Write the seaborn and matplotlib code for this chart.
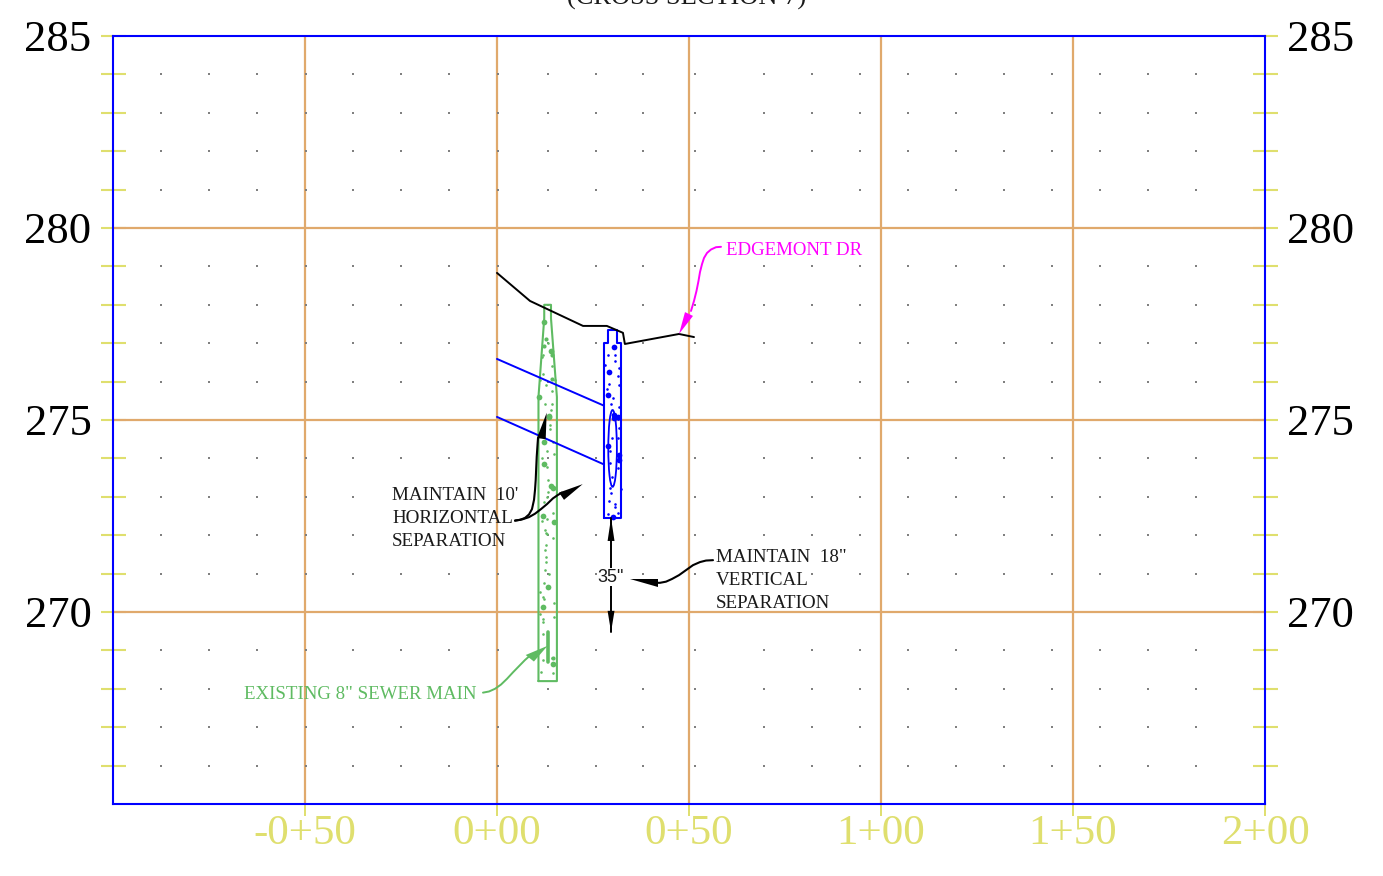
import matplotlib
matplotlib.use("Agg")
import matplotlib.pyplot as plt
from matplotlib.patches import Ellipse
import seaborn as sns

# ---- axes values
x_ticks = [-50, 0, 50, 100, 150, 200]
x_labels = ["-0+50", "0+00", "0+50", "1+00", "1+50", "2+00"]
x_grid = [-50, 0, 50, 100, 150]
y_ticks = [270, 275, 280, 285]
y_grid = [270, 275, 280]
y_minor = [266, 267, 268, 269, 271, 272, 273, 274, 276, 277, 278, 279, 281, 282, 283, 284]

# ---- background dot columns (station) and rows (elevation)
dot_cols = [-87.5, -75, -62.5, -49.7, -37.5, -25, -12.5, 0.2, 13.3, 25.8, 38, 51.6,
            69.5, 82, 94.5, 107, 119.5, 132, 144.5, 157, 169.5, 182, 200]
dot_rows = y_minor
dot_hidden = {273: [-25, -12.5, 0.2], 272: [-25, -12.5, 0.2], 271: [69.5],
              268: [-62.5, -49.7, -37.5, -25, -12.5, 0.2]}

# ---- profile lines
ground_x = [0, 8.6, 22.4, 28.6, 32.8, 33.3, 47.4, 51.3]
ground_y = [278.83, 278.1, 277.45, 277.45, 277.27, 276.98, 277.24, 277.16]
sep_top_x = [0, 27.7]
sep_top_y = [276.59, 275.38]
sep_bot_x = [0, 27.7]
sep_bot_y = [275.08, 273.85]

# ---- sewer main (green) and new pipe trench (blue)
sewer_x = [10.8, 10.8, 12.3, 12.3, 14.06, 14.06, 15.6, 15.6, 10.8]
sewer_y = [268.2, 275.6, 277.65, 278, 278, 277.65, 275.6, 268.2, 268.2]
sewer_mark_x = [13.2, 13.2]
sewer_mark_y = [269.49, 268.7]
trench_x = [27.86, 27.86, 29.0, 29.0, 31.25, 31.25, 32.4, 32.4, 27.86]
trench_y = [272.45, 277.0, 277.0, 277.34, 277.34, 277.0, 277.0, 272.45, 272.45]
pipe_x, pipe_y, pipe_w, pipe_h = 30.1, 274.26, 2.24, 2.0

# ---- speckles: station, elevation, size class
green_sx = [12.24, 12.76, 12.33, 13.98, 13.28, 14.24, 12.07, 11.63, 14.41, 11.89, 14.41, 15.1,
            12.76, 14.24, 11.02, 12.5, 14.24, 13.98, 13.46, 11.2,
            13.63, 13.8, 13.8, 12.24, 14.67, 12.93, 14.84, 11.72, 12.24, 13.1, 13.37, 14.06,
            14.67, 13.28, 13.1, 12.33, 14.5, 12.07, 11.63, 12.93, 14.84, 12.5, 13.1,
            12.76, 14.5, 12.76, 12.5, 12.67, 12.76, 12.5, 13.63, 12.24, 13.37, 11.2, 12.07,
            12.24, 14.84, 11.89, 11.2, 12.07, 14.84, 12.07, 12.07, 11.89, 14.67, 14.67, 14.24,
            11.46, 14.5]
green_sy = [277.56, 277.1, 276.93, 276.8, 277.0, 276.69, 276.69, 276.65, 276.41, 276.2, 276.07, 276.04,
            275.91, 275.76, 275.61, 275.41, 275.42, 275.26, 275.1, 276.04,
            275.09, 274.87, 274.77, 274.42, 274.42, 274.19, 274.11, 274.0, 273.85, 273.78, 273.44, 273.29,
            273.24, 273.12, 273.0, 272.87, 272.57, 272.51, 272.37, 272.42, 272.35, 272.14, 272.03,
            272.07, 271.92, 271.74, 271.61, 271.42, 271.29, 271.09, 270.99, 270.76, 270.66, 270.53, 270.4,
            270.33, 270.24, 270.14, 269.94, 269.83, 269.88, 269.75, 269.44, 268.75, 268.79, 268.64, 268.79,
            268.43, 268.42]
green_ss = [3, 2, 2, 3, 1, 2, 1, 1, 1, 1, 2, 1,
            1, 1, 3, 1, 1, 1, 3, 1,
            3, 1, 1, 3, 1, 1, 1, 1, 3, 1, 1, 3,
            3, 1, 1, 1, 1, 3, 1, 1, 3, 1, 1,
            1, 1, 1, 1, 1, 1, 1, 1, 1, 3, 1, 1,
            1, 1, 3, 1, 1, 1, 1, 1, 1, 2, 3, 1,
            1, 1]
blue_sx = [30.47, 30.73, 28.82, 30.73, 28.13, 29.25, 31.77, 31.6, 29.25, 31.86, 28.56, 29.0,
           30.3, 29.6, 31.86, 30.47, 31.6,
           30.56, 31.6, 31.86, 29.86, 31.42, 29.0, 29.43, 31.77, 31.77, 29.43, 31.42, 29.86,
           29.43, 32.29, 29.6, 29.25, 30.73, 30.73, 28.99, 30.3, 31.6]
blue_sy = [276.91, 276.69, 276.69, 276.54, 276.43, 276.26, 276.35, 276.15, 275.95, 275.91, 275.8, 275.65,
           275.56, 275.42, 275.33, 275.13, 275.09,
           275.06, 275.03, 274.78, 274.54, 274.52, 274.31, 274.18, 274.09, 273.96, 273.87, 273.74, 273.52,
           273.24, 273.2, 273.09, 272.9, 272.8, 272.74, 272.54, 272.48, 272.57]
blue_ss = [3, 1, 1, 1, 1, 3, 1, 1, 1, 1, 1, 3,
           1, 1, 1, 3, 3,
           3, 1, 1, 1, 1, 3, 1, 3, 3, 1, 1, 1,
           1, 1, 1, 1, 1, 1, 1, 3, 1]

# ---- callout leaders and arrow heads
edge_lead_x = [58.33, 57.03, 55.73, 54.69, 53.91, 53.39, 52.86, 52.47, 51.95, 51.3, 50.52]
edge_lead_y = [279.51, 279.5, 279.44, 279.35, 279.22, 279.06, 278.85, 278.62, 278.36, 278.1, 277.84]
edge_head_x = [47.4, 48.96, 51.04]
edge_head_y = [277.24, 277.81, 277.71]
horiz_a_x = [4.69, 5.99, 7.29, 8.33, 9.11, 9.64, 9.9, 10.08, 10.21, 10.34, 10.55, 10.68]
horiz_a_y = [272.38, 272.4, 272.45, 272.54, 272.68, 272.92, 273.18, 273.44, 273.75, 274.04, 274.35, 274.53]
horiz_a_head_x = [12.94, 10.42, 12.68]
horiz_a_head_y = [275.19, 274.53, 274.5]
horiz_b_x = [4.69, 6.51, 8.33, 9.9, 11.46, 13.02, 14.58, 15.89, 16.93]
horiz_b_y = [272.38, 272.41, 272.47, 272.56, 272.68, 272.81, 272.96, 273.05, 273.11]
horiz_b_head_x = [22.32, 16.15, 17.45]
horiz_b_head_y = [273.33, 273.11, 272.92]
vert_lead_x = [56.25, 54.43, 52.86, 51.04, 49.22, 47.4, 45.57, 44.01, 42.45, 41.15]
vert_lead_y = [271.35, 271.34, 271.3, 271.22, 271.09, 270.96, 270.86, 270.79, 270.76, 270.76]
vert_head_x = [34.64, 41.88, 41.88]
vert_head_y = [270.85, 270.85, 270.64]
sewer_lead_x = [-3.65, -2.08, -0.52, 1.04, 2.6, 4.17, 5.73, 7.29, 9.0]
sewer_lead_y = [267.9, 267.93, 268.0, 268.11, 268.26, 268.43, 268.59, 268.75, 268.9]
sewer_head_x = [13.18, 7.47, 9.61]
sewer_head_y = [269.12, 268.88, 268.71]
dim_x = [29.7, 29.7]
dim_y = [272.45, 269.48]
dim_up_x = [29.7, 28.8, 30.6]
dim_up_y = [272.45, 271.85, 271.85]
dim_down_x = [29.7, 28.8, 30.6]
dim_down_y = [269.48, 270.03, 270.03]

# ---- texts
title_text = "(CROSS SECTION 7)"
horiz_lines = ["MAINTAIN  10'", "HORIZONTAL", "SEPARATION"]
horiz_text_y = [273.04, 272.43, 271.83]
vert_lines = ['MAINTAIN  18"', "VERTICAL", "SEPARATION"]
vert_text_y = [271.42, 270.82, 270.22]

BLUE = "#0000FF"
ORANGE = "#E0A96C"
YELLOW = "#DFDF6E"
GREEN = "#5FBB62"
MAGENTA = "#FF00FF"
GRAY = "#808080"
BLACK = "#000000"
SERIF = "Liberation Serif"

sns.set_theme(style="white")
plt.rcParams["font.family"] = [SERIF, "DejaVu Serif"]

fig = plt.figure(figsize=(13.83, 8.76), dpi=100, facecolor="white")
ax = fig.add_axes([113 / 1383, 1 - 804 / 876, (1265 - 113) / 1383, (804 - 36) / 876])
ax.set_xlim(-100, 200)
ax.set_ylim(265, 285)

ax.set_xticks(x_ticks)
ax.set_xticklabels(x_labels)
ax.set_yticks(y_ticks)
ax.set_yticks(y_minor, minor=True)
ax.grid(False)
ax.set_axisbelow(True)
for g in x_grid:
    ax.axvline(g, color=ORANGE, lw=1.6, zorder=1)
for g in y_grid:
    ax.axhline(g, color=ORANGE, lw=1.6, zorder=1)
ax.tick_params(axis="x", which="major", direction="out", length=8.6, width=1.4, color=YELLOW,
               labelcolor=YELLOW, labelsize=31, pad=-1, bottom=True)
ax.tick_params(axis="y", which="both", direction="inout", length=18, width=1.5, color=YELLOW,
               left=True, right=True)
ax.tick_params(axis="y", which="major", labelsize=32, labelcolor=BLACK, labelleft=True,
               labelright=True, pad=6.5)
for s in ax.spines.values():
    s.set_color(BLUE)
    s.set_linewidth(1.5)
    s.set_zorder(6)

# background dots
pts_x, pts_y = [], []
for r in dot_rows:
    for c in dot_cols:
        if c not in dot_hidden.get(r, []):
            pts_x.append(c)
            pts_y.append(r)
sns.scatterplot(x=pts_x, y=pts_y, marker="s", s=3.2, color=GRAY, linewidth=0, ax=ax, zorder=2, legend=False)


def line(xs, ys, color, lw, z=3):
    sns.lineplot(x=xs, y=ys, sort=False, estimator=None, color=color, lw=lw, ax=ax, zorder=z,
                 legend=False, solid_joinstyle="round")


def speck(xs, ys, sizes, color):
    for cls, area in ((1, 3.5), (2, 9), (3, 17)):
        sx = [a for a, k in zip(xs, sizes) if k == cls]
        sy = [a for a, k in zip(ys, sizes) if k == cls]
        sns.scatterplot(x=sx, y=sy, marker="o", s=area, color=color, linewidth=0, ax=ax, zorder=3, legend=False)


# pipes
line(sewer_x, sewer_y, GREEN, 1.5)
line(sewer_mark_x, sewer_mark_y, GREEN, 2.6)
speck(green_sx, green_sy, green_ss, GREEN)
line(trench_x, trench_y, BLUE, 1.5)
speck(blue_sx, blue_sy, blue_ss, BLUE)
ax.add_patch(Ellipse((pipe_x, pipe_y), pipe_w, pipe_h, fill=False, ec=BLUE, lw=1.3, zorder=3))
line(sep_top_x, sep_top_y, BLUE, 1.4)
line(sep_bot_x, sep_bot_y, BLUE, 1.4)
line(ground_x, ground_y, BLACK, 1.4, z=4)

# leaders
line(edge_lead_x, edge_lead_y, MAGENTA, 1.4)
ax.fill(edge_head_x, edge_head_y, color=MAGENTA, lw=0, zorder=4)
line(horiz_a_x, horiz_a_y, BLACK, 1.5, z=4)
ax.fill(horiz_a_head_x, horiz_a_head_y, color=BLACK, lw=0, zorder=4)
line(horiz_b_x, horiz_b_y, BLACK, 1.5, z=4)
ax.fill(horiz_b_head_x, horiz_b_head_y, color=BLACK, lw=0, zorder=4)
line(vert_lead_x, vert_lead_y, BLACK, 1.5, z=4)
ax.fill(vert_head_x, vert_head_y, color=BLACK, lw=0, zorder=4)
line(sewer_lead_x, sewer_lead_y, GREEN, 1.4)
ax.fill(sewer_head_x, sewer_head_y, color=GREEN, lw=0, zorder=4)
line(dim_x, dim_y, BLACK, 1.4, z=4)
ax.fill(dim_up_x, dim_up_y, color=BLACK, lw=0, zorder=4)
ax.fill(dim_down_x, dim_down_y, color=BLACK, lw=0, zorder=4)

# labels
TXT = 13.7
for t, y in zip(horiz_lines, horiz_text_y):
    ax.text(-27.34, y, t, fontsize=TXT, color="#1a1a1a", ha="left", va="center", zorder=5)
for t, y in zip(vert_lines, vert_text_y):
    ax.text(57.03, y, t, fontsize=TXT, color="#1a1a1a", ha="left", va="center", zorder=5)
ax.text(59.64, 279.41, "EDGEMONT DR", fontsize=13.6, color=MAGENTA, ha="left", va="center", zorder=5)
ax.text(-65.89, 267.86, 'EXISTING 8" SEWER MAIN', fontsize=13.6, color=GREEN, ha="left", va="center", zorder=5)
ax.text(29.56, 270.91, '35"', fontsize=13, family="Liberation Sans", color="#1a1a1a", ha="center", va="center",
        zorder=5, bbox=dict(facecolor="white", edgecolor="none", pad=0.5))
fig.text(686.5 / 1383, 1 - 5 / 876, title_text, fontsize=19, color="#1a1a1a", ha="center", va="baseline")

fig.savefig("out.png", dpi=100, facecolor="white")
